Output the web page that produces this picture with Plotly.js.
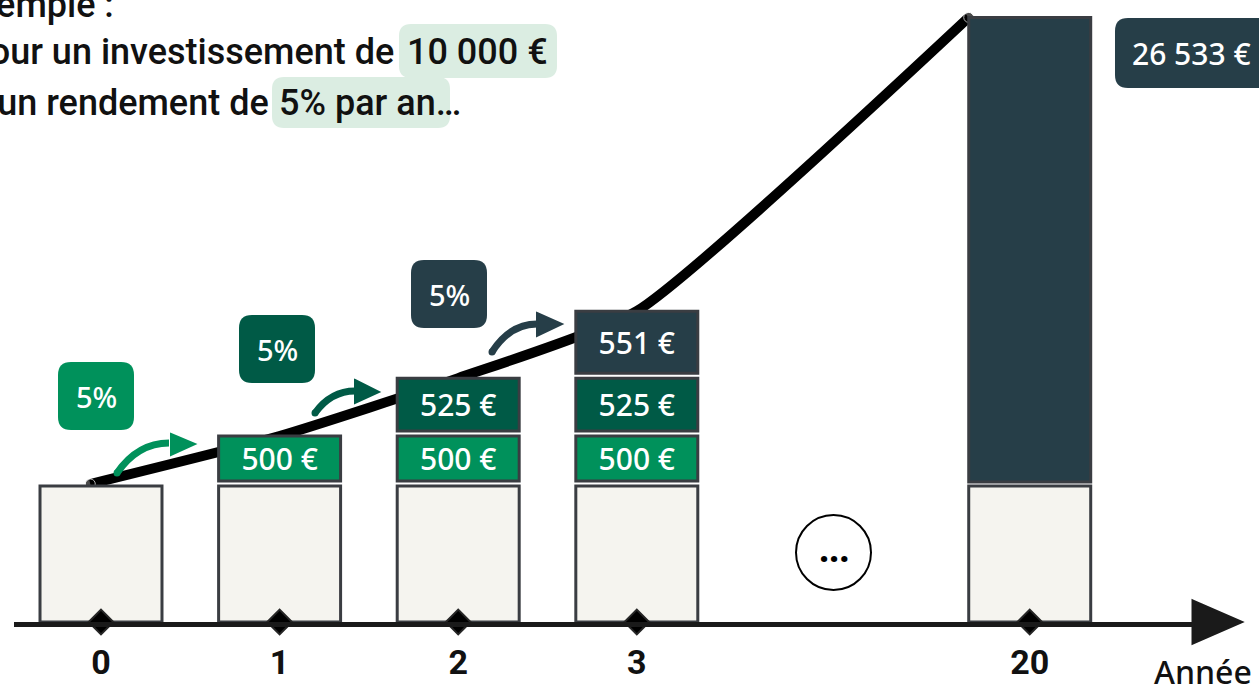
<!DOCTYPE html>
<html>
<head>
<meta charset="utf-8">
<script src="https://cdn.plot.ly/plotly-3.0.1.min.js"></script>
<style>html,body{margin:0;padding:0;background:#fff;}#chart{width:1259px;height:687px;}</style>
</head>
<body>
<div id="chart"></div>
<script>
// ---------------- data ----------------
const years = ['0', '1', '2', '3', '20'];
const principal = 10000;
const interestTiers = [500, 525, 551];      // interest earned in year 1, 2, 3
const rateLabels = ['5%', '5%', '5%'];
const finalTotal = 26533;
const introAmount = '10 000 €';
const introRate = '5% par an';

// ---------------- layout constants ----------------
const W = 1259, H = 687, ML = 14, MR = 64, MB = 65, MT = 0;
const PW = W - ML - MR, PH = H - MT - MB;
const slotPx0 = 101, slotStep = 178.6;
const slots = [0, 1, 2, 3, 5.2];           // horizontal slot of each year (gap for "…")
const barW = 0.683;
const tierColors = ['#00915b', '#005a46', '#263e48'];
const baseFill = '#f5f4ef', edge = '#3a3d42';
const FONT = "'Noto Sans', 'Open Sans', sans-serif";
const INTRO = "Roboto, 'Noto Sans', sans-serif";

// display scales (infographic, not proportional)
const principalScale = 0.0136;
const tierH = v => 45 * Math.pow(v / 500, 3.3);
const finalScale = 0.0281;
const gap = 5;

const xRange = [(ML - slotPx0) / slotStep, (ML + PW - slotPx0) / slotStep];
const yRange = [0, PH];

const fmt = v => String(v).replace(/\B(?=(\d{3})+(?!\d))/g, ' ') + ' €';
const fx = p => (p - ML) / PW;
const fy = p => (MT + PH - p) / PH;
const pt = (x, y) => fx(x).toFixed(5) + ',' + fy(y).toFixed(5);
function rrect(x0, y0, x1, y1, r) {
  return 'M' + pt(x0 + r, y0) + ' L' + pt(x1 - r, y0) + ' Q' + pt(x1, y0) + ' ' + pt(x1, y0 + r) +
    ' L' + pt(x1, y1 - r) + ' Q' + pt(x1, y1) + ' ' + pt(x1 - r, y1) +
    ' L' + pt(x0 + r, y1) + ' Q' + pt(x0, y1) + ' ' + pt(x0, y1 - r) +
    ' L' + pt(x0, y0 + r) + ' Q' + pt(x0, y0) + ' ' + pt(x0 + r, y0) + ' Z';
}

// ---------------- traces ----------------
const principalH = principal * principalScale;
const traces = [];

const stackTop = years.map(() => principalH);
const tierTraces = interestTiers.map((v, i) => {
  const xs = [], bases = [], hs = [], txt = [];
  for (let yi = i + 1; yi <= 3; yi++) {
    const b = stackTop[yi] + gap;
    const h = tierH(v);
    xs.push(slots[yi]); bases.push(b); hs.push(h); txt.push(fmt(v));
    stackTop[yi] = b + h;
  }
  return {
    type: 'bar', xaxis: 'x2', yaxis: 'y2', x: xs, y: hs, base: bases, width: barW,
    text: txt, textposition: 'inside', insidetextanchor: 'middle', constraintext: 'none',
    textfont: {family: FONT, size: 30, color: '#ffffff', weight: 500},
    marker: {color: tierColors[i], line: {color: edge, width: 3}},
    hoverinfo: 'skip', showlegend: false
  };
});

const finalBase = principalH + 4;
const finalH = (finalTotal - principal) * finalScale;

// growth curve (drawn first, under the bars)
const curveX = [slots[0] - 0.06, slots[1], slots[2], slots[3], slots[4] - barW / 2];
const curveY = [principalH + 2, stackTop[1], stackTop[2], stackTop[3], finalBase + finalH];
traces.push({
  type: 'scatter', mode: 'lines+markers', x: curveX, y: curveY, xaxis: 'x', yaxis: 'y',
  line: {color: '#000000', width: 10, shape: 'spline', smoothing: 0.5},
  marker: {color: '#000000', size: [10, 0, 0, 0, 10]},
  hoverinfo: 'skip', showlegend: false, cliponaxis: false
});

traces.push({
  type: 'bar', xaxis: 'x2', yaxis: 'y2', x: slots, y: years.map(() => principalH), base: years.map(() => 0),
  width: barW, marker: {color: baseFill, line: {color: edge, width: 3}},
  hoverinfo: 'skip', showlegend: false
});
tierTraces.forEach(t => traces.push(t));
traces.push({
  type: 'bar', xaxis: 'x2', yaxis: 'y2', x: [slots[4]], y: [finalH], base: [finalBase], width: barW,
  marker: {color: tierColors[2], line: {color: edge, width: 3}},
  hoverinfo: 'skip', showlegend: false
});
// year ticks (diamonds)
traces.push({
  type: 'scatter', mode: 'markers', xaxis: 'x2', yaxis: 'y2', x: slots, y: years.map(() => 0),
  marker: {symbol: 'diamond', size: 19, color: '#000000', line: {color: '#262626', width: 2}},
  cliponaxis: false, hoverinfo: 'skip', showlegend: false
});

// ---------------- decorations ----------------
const shapes = [];
const annotations = [];
const paper = {xref: 'paper', yref: 'paper'};

shapes.push(Object.assign({type: 'path', path: rrect(399, 24, 557, 78, 12), fillcolor: '#dbede2', line: {width: 0}, layer: 'below'}, paper));
shapes.push(Object.assign({type: 'path', path: rrect(272, 77, 450, 128, 12), fillcolor: '#dbede2', line: {width: 0}, layer: 'below'}, paper));

const introFont = {family: INTRO, size: 36, color: '#111111', weight: 500};
annotations.push(Object.assign({x: fx(116), y: fy(5), text: 'Exemple :', xanchor: 'right', yanchor: 'middle', showarrow: false, font: introFont}, paper));
annotations.push(Object.assign({x: fx(396), y: fy(52), text: 'Pour un investissement de', xanchor: 'right', yanchor: 'middle', showarrow: false, font: introFont}, paper));
annotations.push(Object.assign({x: fx(478), y: fy(52), text: introAmount, xanchor: 'center', yanchor: 'middle', showarrow: false, font: introFont}, paper));
annotations.push(Object.assign({x: fx(271), y: fy(103), text: 'et un rendement de', xanchor: 'right', yanchor: 'middle', showarrow: false, font: introFont}, paper));
annotations.push(Object.assign({x: fx(277), y: fy(103), text: introRate + '…', xanchor: 'left', yanchor: 'middle', showarrow: false, font: introFont}, paper));

const rateBoxes = [[96, 396], [277, 349], [449, 294]];
const arrows = [
  {s: [117, 473], e: [169, 443], head: [[171, 434], [195, 444], [171, 455]]},
  {s: [315, 413], e: [355, 391], head: [[355, 380], [379, 392], [355, 403]]},
  {s: [492, 352], e: [537, 324], head: [[537, 313], [562, 324], [537, 336]]}
];
rateLabels.forEach((lab, i) => {
  const [cx, cy] = rateBoxes[i];
  shapes.push(Object.assign({type: 'path', path: rrect(cx - 38, cy - 34, cx + 38, cy + 34, 13), fillcolor: tierColors[i], line: {width: 0}}, paper));
  annotations.push(Object.assign({x: fx(cx), y: fy(cy), text: lab, showarrow: false, xanchor: 'center', yanchor: 'middle',
    font: {family: FONT, size: 29, color: '#ffffff', weight: 500}}, paper));
  const a = arrows[i];
  const cxq = a.s[0] + (a.e[0] - a.s[0]) * 0.4;
  shapes.push(Object.assign({type: 'path', path: 'M' + pt(a.s[0], a.s[1]) + ' Q' + pt(cxq, a.e[1]) + ' ' + pt(a.e[0], a.e[1]),
    line: {color: tierColors[i], width: 7}, fillcolor: 'rgba(0,0,0,0)'}, paper));
  shapes.push(Object.assign({type: 'circle', x0: fx(a.s[0] - 3.5), x1: fx(a.s[0] + 3.5), y0: fy(a.s[1] - 3.5), y1: fy(a.s[1] + 3.5),
    fillcolor: tierColors[i], line: {width: 0}}, paper));
  shapes.push(Object.assign({type: 'path', path: 'M' + pt(a.head[0][0], a.head[0][1]) + ' L' + pt(a.head[1][0], a.head[1][1]) + ' L' + pt(a.head[2][0], a.head[2][1]) + ' Z',
    fillcolor: tierColors[i], line: {color: tierColors[i], width: 2}}, paper));
});

shapes.push(Object.assign({type: 'path', path: rrect(1115, 18, 1280, 88, 13), fillcolor: tierColors[2], line: {width: 0}}, paper));
annotations.push(Object.assign({x: fx(1191), y: fy(53), text: fmt(finalTotal), showarrow: false, xanchor: 'center', yanchor: 'middle',
  font: {family: FONT, size: 30, color: '#ffffff', weight: 500}}, paper));

shapes.push(Object.assign({type: 'circle', x0: fx(796), x1: fx(871), y0: fy(515), y1: fy(590), line: {color: '#000000', width: 2}, fillcolor: '#ffffff'}, paper));
annotations.push(Object.assign({x: fx(834), y: fy(548), text: '<b>...</b>', showarrow: false, xanchor: 'center', yanchor: 'middle',
  font: {family: FONT, size: 36, color: '#000000'}}, paper));

shapes.push(Object.assign({type: 'path', path: 'M' + pt(1193, 601) + ' L' + pt(1241, 622) + ' L' + pt(1193, 643) + ' Z',
  fillcolor: '#1a1a1a', line: {color: '#1a1a1a', width: 3}}, paper));
annotations.push(Object.assign({x: fx(1203), y: fy(671), text: 'Année', showarrow: false, xanchor: 'center', yanchor: 'middle',
  font: {family: FONT, size: 32, color: '#111111', weight: 500}}, paper));

const layout = {
  width: W, height: H,
  margin: {l: ML, r: MR, t: MT, b: MB, pad: 0},
  paper_bgcolor: '#ffffff', plot_bgcolor: 'rgba(0,0,0,0)',
  barmode: 'overlay', showlegend: false,
  xaxis: {range: xRange, tickvals: slots, ticktext: years, showline: true, linecolor: '#1a1a1a', linewidth: 5,
    showgrid: false, zeroline: false, ticks: '', ticklabelstandoff: 6,
    tickfont: {family: INTRO, size: 34, color: '#111111', weight: 700}, fixedrange: true},
  yaxis: {range: yRange, visible: false, showgrid: false, zeroline: false, fixedrange: true},
  xaxis2: {range: xRange, overlaying: 'x', visible: false, fixedrange: true},
  yaxis2: {range: yRange, overlaying: 'y', visible: false, fixedrange: true},
  shapes: shapes,
  annotations: annotations
};

Plotly.newPlot('chart', traces, layout, {staticPlot: true, displayModeBar: false});
</script>
</body>
</html>
